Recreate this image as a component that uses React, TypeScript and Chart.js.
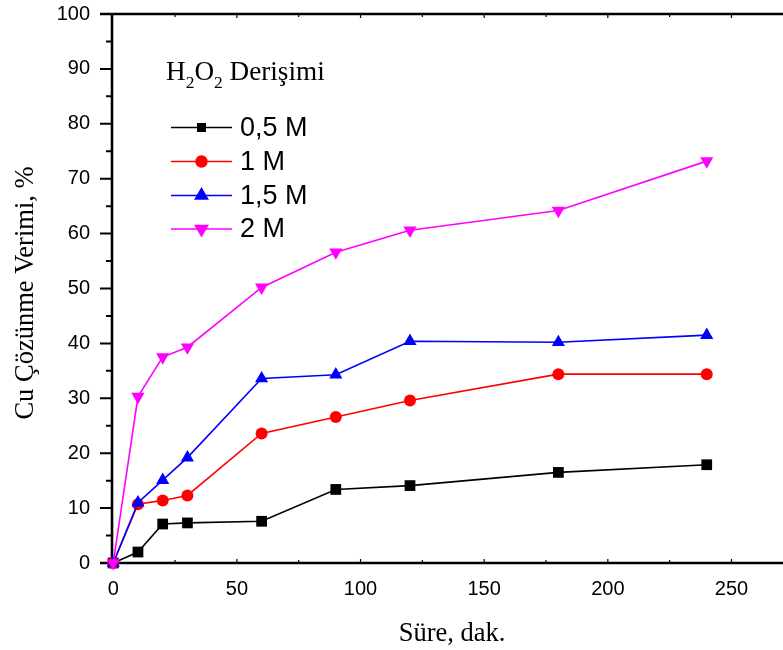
import { useEffect, useRef } from 'react';
import { Chart, registerables } from 'chart.js';

Chart.register(...registerables);

// Time (minutes)
const times = [0, 10, 20, 30, 60, 90, 120, 180, 240];
const seriesLabels = ['0,5 M', '1 M', '1,5 M', '2 M'];
const yield05 = [0, 2.0, 7.1, 7.3, 7.6, 13.4, 14.1, 16.5, 17.9];
const yield1 = [0, 10.7, 11.4, 12.3, 23.6, 26.6, 29.6, 34.4, 34.4];
const yield15 = [0, 11.0, 15.1, 19.2, 33.6, 34.3, 40.4, 40.2, 41.5];
const yield2 = [0, 30.3, 37.5, 39.3, 50.2, 56.6, 60.6, 64.2, 73.2];
const xTicks = [0, 50, 100, 150, 200, 250];
const xMinorTicks = [25, 75, 125, 175, 225];
const yTicks = [0, 10, 20, 30, 40, 50, 60, 70, 80, 90, 100];
const yMinorTicks = [5, 15, 25, 35, 45, 55, 65, 75, 85, 95];
const xTitle = 'Süre, dak.';
const yTitle = 'Cu Çözünme Verimi, %';
const legendTitleParts = [
  { t: 'H', sub: false },
  { t: '2', sub: true },
  { t: 'O', sub: false },
  { t: '2', sub: true },
  { t: ' Derişimi', sub: false },
];

const colors = ['#000000', '#ff0000', '#0000ff', '#ff00ff'];
const styles = ['rect', 'circle', 'triangle', 'triangle'];
const rotations = [0, 0, 0, 180];
const radii = [7.6, 6, 7.6, 7.6];

const SERIF = '"Liberation Serif", "Times New Roman", serif';
const SANS = '"Liberation Sans", Arial, sans-serif';

function drawMarker(ctx: CanvasRenderingContext2D, kind: string, rot: number, x: number, y: number, r: number, color: string) {
  ctx.save();
  ctx.fillStyle = color;
  ctx.beginPath();
  if (kind === 'rect') {
    const s = r * Math.SQRT1_2;
    ctx.rect(x - s, y - s, 2 * s, 2 * s);
  } else if (kind === 'circle') {
    ctx.arc(x, y, r, 0, Math.PI * 2);
  } else {
    const dir = rot === 180 ? -1 : 1;
    ctx.moveTo(x, y - dir * r);
    ctx.lineTo(x + r * 0.866, y + dir * r * 0.5);
    ctx.lineTo(x - r * 0.866, y + dir * r * 0.5);
    ctx.closePath();
  }
  ctx.fill();
  ctx.restore();
}

const framePlugin = {
  id: 'frame',
  beforeDatasetsDraw(chart: any) {
    const { ctx, chartArea: a, scales } = chart;
    const xs = scales.x;
    const ys = scales.y;
    ctx.save();
    ctx.strokeStyle = '#000';
    ctx.lineCap = 'butt';
    ctx.lineWidth = 2;
    ctx.beginPath();
    yTicks.forEach((v) => {
      const py = ys.getPixelForValue(v);
      ctx.moveTo(a.left - 12, py);
      ctx.lineTo(a.left, py);
    });
    yMinorTicks.forEach((v) => {
      const py = ys.getPixelForValue(v);
      ctx.moveTo(a.left - 6, py);
      ctx.lineTo(a.left, py);
    });
    ctx.stroke();
    ctx.lineWidth = 1.2;
    ctx.beginPath();
    xTicks.concat(xMinorTicks).forEach((v) => {
      const px = xs.getPixelForValue(v);
      if (px <= a.left + 2) return;
      const len = xTicks.includes(v) ? 4 : 3;
      ctx.moveTo(px, a.bottom);
      ctx.lineTo(px, a.bottom - len);
      ctx.moveTo(px, a.top);
      ctx.lineTo(px, a.top + len);
    });
    ctx.stroke();
    ctx.lineWidth = 2.6;
    ctx.beginPath();
    ctx.moveTo(a.left, a.top - 1.3);
    ctx.lineTo(a.left, a.bottom + 1.3);
    ctx.moveTo(a.left - 12, a.bottom);
    ctx.lineTo(a.right, a.bottom);
    ctx.moveTo(a.left - 12, a.top);
    ctx.lineTo(a.right, a.top);
    ctx.stroke();
    ctx.restore();
  },
  afterDraw(chart: any) {
    const { ctx } = chart;
    ctx.save();
    ctx.fillStyle = '#000';
    ctx.font = `26.5px ${SERIF}`;
    ctx.textAlign = 'center';
    ctx.textBaseline = 'alphabetic';
    ctx.fillText(xTitle, 452, 641);
    ctx.save();
    ctx.translate(33, 293);
    ctx.rotate(-Math.PI / 2);
    ctx.fillText(yTitle, 0, 0);
    ctx.restore();

    ctx.textAlign = 'left';
    let cx = 166;
    legendTitleParts.forEach((p) => {
      ctx.font = p.sub ? `17.5px ${SERIF}` : `27.2px ${SERIF}`;
      ctx.fillText(p.t, cx, p.sub ? 88 : 80);
      cx += ctx.measureText(p.t).width;
    });

    const rowY = [127.5, 161.5, 195.5, 229];
    const lr = [6.4, 6.2, 8.6, 8.6];
    chart.data.datasets.forEach((ds: any, i: number) => {
      const y = rowY[i];
      ctx.strokeStyle = colors[i];
      ctx.lineWidth = 1.5;
      ctx.beginPath();
      ctx.moveTo(171, y);
      ctx.lineTo(232, y);
      ctx.stroke();
      drawMarker(ctx, styles[i], rotations[i], 201.5, y, lr[i], colors[i]);
      ctx.fillStyle = '#000';
      ctx.font = `27px ${SANS}`;
      ctx.textBaseline = 'middle';
      ctx.fillText(ds.label, 240, y + 1);
      ctx.textBaseline = 'alphabetic';
    });
    ctx.restore();
  },
};

export default function App() {
  const canvasRef = useRef<HTMLCanvasElement | null>(null);

  useEffect(() => {
    if (!canvasRef.current) return;
    const seriesValues = [yield05, yield1, yield15, yield2];
    const chart = new Chart(canvasRef.current, {
      type: 'line',
      data: {
        datasets: seriesValues.map((vals, i) => ({
          label: seriesLabels[i],
          data: times.map((t, j) => ({ x: t, y: vals[j] })),
          borderColor: colors[i],
          backgroundColor: colors[i],
          borderWidth: 1.6,
          pointStyle: styles[i] as any,
          pointRotation: rotations[i],
          pointRadius: radii[i],
          pointBorderWidth: 0,
          pointBackgroundColor: colors[i],
          pointBorderColor: colors[i],
          tension: 0,
          clip: false as any,
          order: 3 - i,
        })),
      },
      options: {
        animation: false,
        responsive: false,
        maintainAspectRatio: false,
        layout: { padding: { top: 14, right: 0, left: 0, bottom: 0 } },
        plugins: {
          legend: { display: false },
          tooltip: { enabled: false },
          title: { display: false },
        },
        scales: {
          x: {
            type: 'linear',
            min: -0.5,
            max: 271,
            afterBuildTicks: (s: any) => {
              s.ticks = xTicks.map((v) => ({ value: v }));
            },
            afterFit: (s: any) => {
              s.height = 87;
              s.paddingLeft = 0;
              s.paddingRight = 0;
              s.paddingTop = 0;
              s.paddingBottom = 0;
            },
            grid: { display: false, drawTicks: false, tickLength: 0 },
            border: { display: false },
            ticks: {
              color: '#000',
              font: { family: SANS, size: 20 },
              padding: 14,
              maxRotation: 0,
              autoSkip: false,
            },
          },
          y: {
            type: 'linear',
            min: 0,
            max: 100,
            afterBuildTicks: (s: any) => {
              s.ticks = yTicks.map((v) => ({ value: v }));
            },
            afterFit: (s: any) => {
              s.width = 112;
              s.paddingLeft = 0;
              s.paddingRight = 0;
              s.paddingTop = 0;
              s.paddingBottom = 0;
            },
            grid: { display: false, drawTicks: false, tickLength: 0 },
            border: { display: false },
            ticks: {
              color: '#000',
              font: { family: SANS, size: 20 },
              padding: 22,
              autoSkip: false,
            },
          },
        },
      },
      plugins: [framePlugin],
    });
    return () => chart.destroy();
  }, []);

  return (
    <div style={{ position: 'fixed', left: 0, top: 0, width: 783, height: 650, overflow: 'hidden', background: '#fff' }}>
      <canvas ref={canvasRef} width={791} height={650} style={{ display: 'block', width: 791, height: 650 }} />
    </div>
  );
}
